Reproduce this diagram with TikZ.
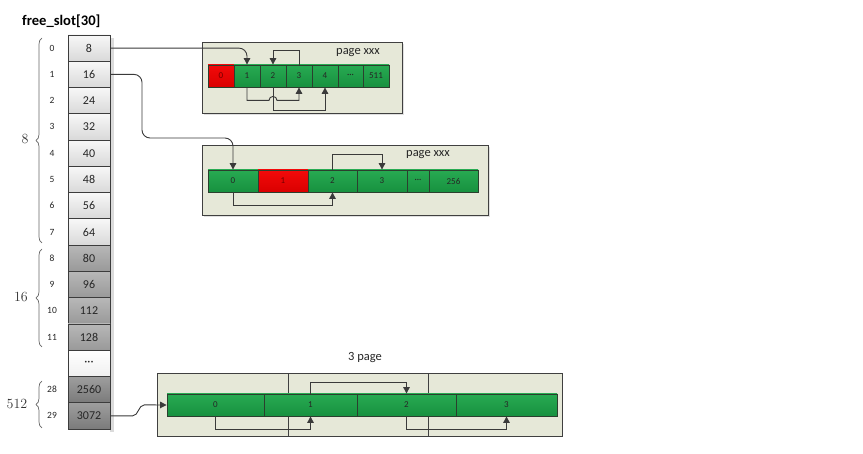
\documentclass[tikz,border=0pt]{standalone}
\usepackage{fontspec}
\setsansfont{Carlito}
\usetikzlibrary{arrows.meta,calc,decorations.pathreplacing,shadows}
\definecolor{linec}{HTML}{3A3A3A}
\definecolor{bordc}{HTML}{3C3C3C}
\definecolor{boxc}{HTML}{E6E8D8}
\definecolor{gtop}{HTML}{28AA52}
\definecolor{gbot}{HTML}{17913F}
\definecolor{gbord}{HTML}{2B3F2E}
\definecolor{rtop}{HTML}{F20A0A}
\definecolor{rbot}{HTML}{DA0000}
\begin{document}
\begin{tikzpicture}[x=1pt,y=-1pt,
  arr/.style={draw=linec, line width=0.9pt, -{Triangle[length=6.5pt,width=6.5pt]}},
  arraycell/.style={draw=bordc, line width=0.9pt, minimum width=42pt, minimum height=26.27pt,
    inner sep=0pt, font=\sffamily\fontsize{12}{14}\selectfont, text=black!85},
  lightcell/.style={arraycell, top color=black!3, bottom color=black!15},
  whitecell/.style={arraycell, top color=white, bottom color=black!6},
  midcell/.style={arraycell, top color=black!28, bottom color=black!40},
  darkcell/.style={arraycell, top color=black!38, bottom color=black!52},
  idxlab/.style={font=\sffamily\fontsize{9.5}{11}\selectfont, text=black!85, inner sep=0pt},
  bracelab/.style={font=\fontsize{14}{16}\selectfont, text=black!80, inner sep=0pt},
  curly/.style={draw=black!60, line width=0.7pt, decorate, decoration={brace, amplitude=6pt}},
  pagebox/.style={draw=black!75, line width=0.9pt, fill=boxc, inner sep=0pt,
    drop shadow={shadow xshift=2pt, shadow yshift=-2pt, fill=black!12, opacity=1}},
  pagebox3/.style={draw=black!75, line width=0.9pt, fill=boxc, inner sep=0pt},
  pcell/.style={draw=gbord, line width=0.8pt, minimum height=22pt, inner sep=0pt,
    font=\sffamily\fontsize{9}{10}\selectfont},
  gcell/.style={pcell, top color=gtop, bottom color=gbot, text=black!85},
  rcell/.style={pcell, top color=rtop, bottom color=rbot, text=red!45!black},
  pagelab/.style={font=\sffamily\fontsize{12.5}{14}\selectfont, text=black!85, inner sep=0pt}
]
\useasboundingbox[fill=white] (0,0) rectangle (863,454);

% title
\node[font=\sffamily\bfseries\fontsize{14.6}{17}\selectfont, anchor=west, inner sep=0pt] (title) at (22,21) {free\_slot[30]};

% array shadow
\fill[black!14] (110,38) rectangle (114,432);

% array cells
\foreach \k/\v in {0/8,1/16,2/24,3/32,4/40,5/48,6/56,7/64}{
  \pgfmathsetmacro\yc{48.13+26.27*\k}
  \node[lightcell] (a\k) at (89,\yc) {\v};
  \node[idxlab] (i\k) at (52,\yc) {\k};
}
\foreach \k/\v in {8/80,9/96,10/112,11/128}{
  \pgfmathsetmacro\yc{48.13+26.27*\k}
  \node[midcell] (a\k) at (89,\yc) {\v};
  \node[idxlab] (i\k) at (52,\yc) {\k};
}
\node[whitecell] (a12) at (89,363.4) {···};
\node[darkcell] (a13) at (89,389.6) {2560};
\node[idxlab] (i28) at (52,389.6) {28};
\node[darkcell] (a14) at (89,415.9) {3072};
\node[idxlab] (i29) at (52,415.9) {29};

% braces
\draw[curly] (42,243) -- (42,38);
\node[bracelab] (b8) at (25,139) {8};
\draw[curly] (42,347) -- (42,249);
\node[bracelab] (b16) at (21,297) {16};
\draw[curly] (42,428) -- (42,381);
\node[bracelab] (b512) at (17,404) {512};

% page 1
\node[pagebox, minimum width=200pt, minimum height=71pt] (box1) at (302,77.5) {};
\node[pagelab] (pl1) at (358,53) {page xxx};
\node[rcell, minimum width=26pt] (p1c0) at (221,76) {0};
\node[gcell, minimum width=26pt] (p1c1) at (247,76) {1};
\node[gcell, minimum width=26pt] (p1c2) at (273,76) {2};
\node[gcell, minimum width=26pt] (p1c3) at (299,76) {3};
\node[gcell, minimum width=26pt] (p1c4) at (325,76) {4};
\node[gcell, minimum width=25pt] (p1c5) at (350.5,76) {···};
\node[gcell, minimum width=26pt] (p1c6) at (376,76) {511};

% page 2
\node[pagebox, minimum width=286pt, minimum height=70pt] (box2) at (345,180) {};
\node[pagelab] (pl2) at (428,155) {page xxx};
\node[gcell, minimum width=50pt] (p2c0) at (233,181) {0};
\node[rcell, minimum width=50pt] (p2c1) at (283,181) {1};
\node[gcell, minimum width=49pt] (p2c2) at (332.5,181) {2};
\node[gcell, minimum width=50pt] (p2c3) at (382,181) {3};
\node[gcell, minimum width=22pt] (p2c4) at (418,181) {···};
\node[gcell, minimum width=49pt] (p2c5) at (453.5,181) {256};

% page 3 (three pages)
\node[pagebox3, minimum width=131pt, minimum height=63pt] (box3a) at (222.5,404.5) {};
\node[pagebox3, minimum width=140pt, minimum height=63pt] (box3b) at (358,404.5) {};
\node[pagebox3, minimum width=134pt, minimum height=63pt] (box3c) at (495,404.5) {};
\node[pagelab] (pl3) at (365,358) {3 page};
\node[gcell, minimum width=97pt] (p3c0) at (215.5,405) {0};
\node[gcell, minimum width=93pt] (p3c1) at (310.5,405) {1};
\node[gcell, minimum width=99pt] (p3c2) at (406.5,405) {2};
\node[gcell, minimum width=101pt] (p3c3) at (506.5,405) {3};

% connectors from the array
\draw[arr, rounded corners=8pt] (a0.east) -| (p1c1.north);
\coordinate (bend1) at (142,138);
\draw[arr, rounded corners=8pt] (a1.east) -| (bend1) -| (p2c0.north);
\draw[arr] (a14.east) -- ++(22,0) to[out=0,in=180] ++(12,-11) -- (p3c0.west);

% page 1 links
\draw[arr] (p1c3.north) -- ++(0,-14) -| (p1c2.north);
\draw[arr] (p1c1.south) |- ($(p1c2.south)+(-4,13)$) arc[start angle=180, end angle=360, radius=4] -| (p1c3.south);
\draw[arr] (p1c2.south) -- ++(0,23) -| (p1c4.south);

% page 2 links
\draw[arr] (p2c2.north) -- ++(0,-15) -| (p2c3.north);
\draw[arr] (p2c0.south) -- ++(0,13) -| (p2c2.south);

% page 3 links
\draw[arr] (p3c1.north) -- ++(0,-11) -| (p3c2.north);
\draw[arr] (p3c0.south) -- ++(0,13) -| (p3c1.south);
\draw[arr] (p3c2.south) -- ++(0,13) -| (p3c3.south);
\end{tikzpicture}
\end{document}
